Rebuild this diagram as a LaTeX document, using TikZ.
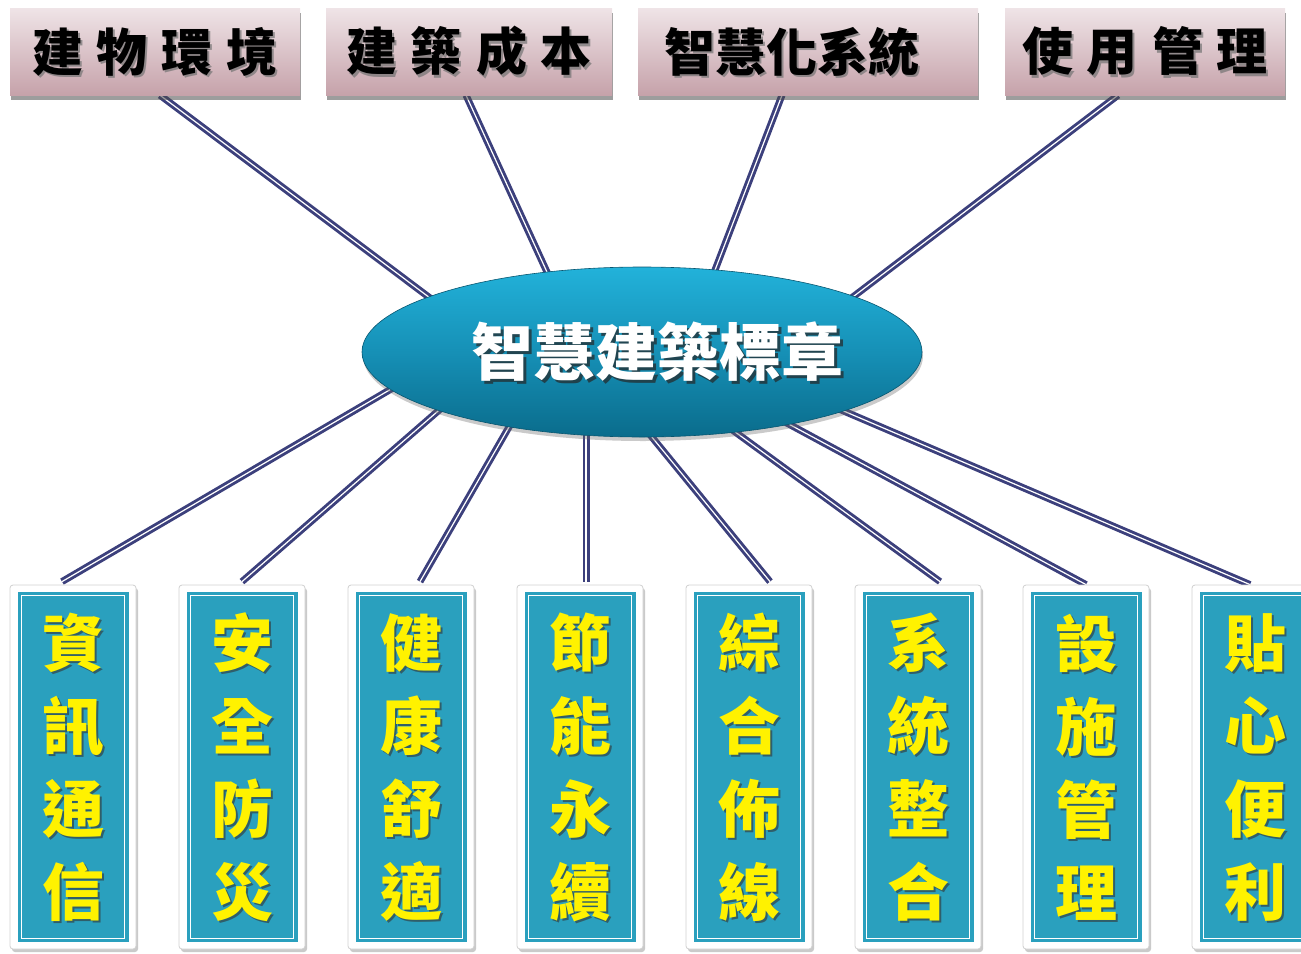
\documentclass[tikz,border=0pt]{standalone}
\usepackage{fontspec}
\newfontfamily\cjk{Noto Sans CJK TC}
\usetikzlibrary{shadows,calc,shapes.geometric}
\pgfdeclarelayer{background}
\pgfsetlayers{background,main}
\definecolor{navy}{HTML}{3C407C}
\definecolor{teal1}{HTML}{2AA0BE}
\definecolor{pinktop}{HTML}{EFE4E7}
\definecolor{pinkbot}{HTML}{C6A2AA}
\definecolor{elltop}{HTML}{22B2DA}
\definecolor{ellmid}{HTML}{1690B6}
\definecolor{ellbot}{HTML}{0A6C8C}
\tikzset{
  conn/.style={draw=navy, line width=2.9pt, double=white, double distance=1.2pt},
  topbox/.style={minimum height=87pt, inner sep=0pt, top color=pinktop, bottom color=pinkbot,
     drop shadow={shadow xshift=1pt, shadow yshift=-5pt, opacity=0.55, fill=black!70}},
  toptext/.style={font=\cjk\bfseries\fontsize{51}{53}\selectfont, inner sep=0pt},
  pillarout/.style={minimum width=126pt, minimum height=364pt, inner sep=0pt, fill=white,
     draw=black!18, line width=0.8pt, rounded corners=3pt,
     drop shadow={shadow xshift=2pt, shadow yshift=-3pt, opacity=0.35, fill=black!60}},
  pillarin/.style={minimum width=111pt, minimum height=350pt, inner sep=0pt, fill=teal1},
  ptext/.style={font=\cjk\bfseries\fontsize{62}{83}\selectfont, align=center, inner sep=0pt},
  ellnode/.style={ellipse, minimum width=560pt, minimum height=170pt, inner sep=0pt,
     top color=elltop, bottom color=ellbot, middle color=ellmid, draw=ellbot!80!black, line width=0.6pt,
     drop shadow={shadow xshift=1pt, shadow yshift=-4pt, opacity=0.35, fill=black!60}},
}
\newcommand\pillar[6]{%
  \node[pillarout] (#1) at (#2,767) {};
  \node[pillarin] (#1-in) at (#1.center) {};
  \draw[white, line width=1.3pt] ([xshift=4pt,yshift=4pt]#1-in.south west) rectangle ([xshift=-4pt,yshift=-4pt]#1-in.north east);
  \node[ptext, text=black!80, opacity=0.6] (#1-s) at ([xshift=2.5pt,yshift=-2.5pt]#1.center) {#3\\#4\\#5\\#6};
  \node[ptext, text=yellow] (#1-t) at (#1.center) {#3\\#4\\#5\\#6};
}
\newcommand\topb[5]{%
  \node[topbox, minimum width=#3pt] (#1) at (#2,51.5) {};
  \node[toptext, text=black!55, opacity=0.7] (#1-s) at ([xshift=#5pt+2pt,yshift=-2.5pt]#1.center) {#4};
  \node[toptext, text=black] (#1-t) at ([xshift=#5pt]#1.center) {#4};
}
\newcommand\gapsp{\hspace{14pt}}
\begin{document}
\begin{tikzpicture}[x=1pt,y=-1pt]
\useasboundingbox (0,0) rectangle (1301,953);
% top boxes
\topb{tA}{155}{290}{建\gapsp 物\gapsp 環\gapsp 境}{0}
\topb{tB}{469}{286}{建\gapsp 築\gapsp 成\gapsp 本}{0}
\topb{tC}{808}{340}{智慧化系統}{-16}
\topb{tD}{1145}{280}{使\gapsp 用\gapsp 管\gapsp 理}{0}
% central ellipse
\node[ellnode] (ell) at (642,352) {};
\node[font=\cjk\bfseries\fontsize{62}{64}\selectfont, text=black!85, opacity=0.7, inner sep=0pt] (ell-s) at (660,355) {智慧建築標章};
\node[font=\cjk\bfseries\fontsize{62}{64}\selectfont, text=white, inner sep=0pt] (ell-t) at (657,352) {智慧建築標章};
% bottom pillars
\pillar{b1}{73}{資}{訊}{通}{信}
\pillar{b2}{242}{安}{全}{防}{災}
\pillar{b3}{411}{健}{康}{舒}{適}
\pillar{b4}{580}{節}{能}{永}{續}
\pillar{b5}{749}{綜}{合}{佈}{線}
\pillar{b6}{918}{系}{統}{整}{合}
\pillar{b7}{1086}{設}{施}{管}{理}
\pillar{b8}{1255}{貼}{心}{便}{利}
% inner end points
\coordinate (eT1) at (470,328);
\coordinate (eT2) at (563,307);
\coordinate (eT3) at (702,304);
\coordinate (eT4) at (816,325);
\coordinate (eB1) at (439,361);
\coordinate (eB2) at (476,378);
\coordinate (eB3) at (528,394);
\coordinate (eB4) at (586,400);
\coordinate (eB5) at (620,398);
\coordinate (eB6) at (690,399);
\coordinate (eB7) at (722,388);
\coordinate (eB8) at (764,377);
\begin{pgfonlayer}{background}
\draw[conn] ([xshift=5pt]tA.south) -- (eT1);
\draw[conn] ([xshift=-3pt]tB.south) -- (eT2);
\draw[conn] ([xshift=-26pt]tC.south) -- (eT3);
\draw[conn] ([xshift=-27pt]tD.south) -- (eT4);
\draw[conn] ([xshift=-11pt,yshift=3pt]b1.north) -- (eB1);
\draw[conn] ([yshift=3pt]b2.north) -- (eB2);
\draw[conn] ([xshift=9pt,yshift=3pt]b3.north) -- (eB3);
\draw[conn] ([xshift=6pt,yshift=3pt]b4.north) -- (eB4);
\draw[conn] ([xshift=21pt,yshift=3pt]b5.north) -- (eB5);
\draw[conn] ([xshift=22pt,yshift=3pt]b6.north) -- (eB6);
\draw[conn] (b7.north) -- (eB7);
\draw[conn] ([xshift=-5pt]b8.north) -- (eB8);
\end{pgfonlayer}
\end{tikzpicture}
\end{document}
